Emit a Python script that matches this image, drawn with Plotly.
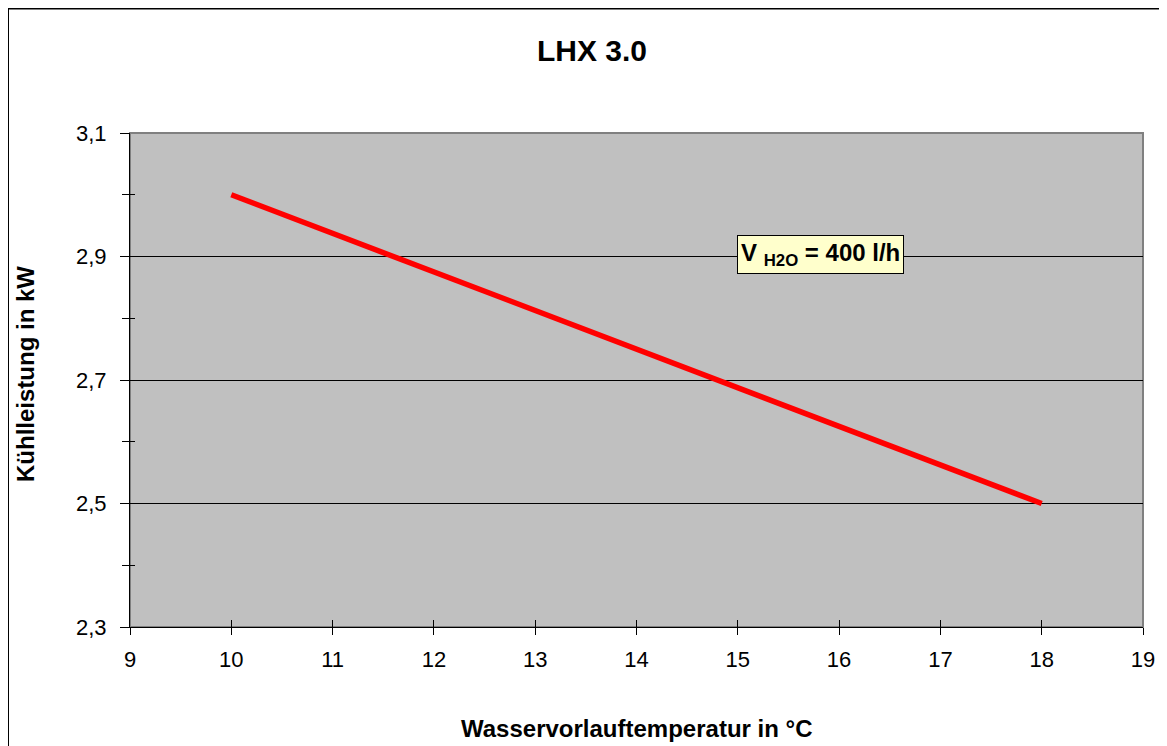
import plotly.graph_objects as go

temps = [10, 12, 14, 16, 18]
power = [3.0, 2.875, 2.75, 2.625, 2.5]

x_ticks = list(range(9, 20))
y_ticks = [2.3, 2.5, 2.7, 2.9, 3.1]

W, H = 1167, 746
OFF = 8  # page body margin
L, R, T, B = 122, 32, 125, 127
pw, ph = W - L - R, H - T - B

def px_x(p):  # screen px -> paper x
    return (p - OFF - L) / pw

def px_y(p):  # screen px -> paper y
    return (H - B - (p - OFF)) / ph

fig = go.Figure()
fig.add_trace(go.Scatter(
    x=temps, y=power, mode="lines",
    line=dict(color="#FF0000", width=5.5),
    hoverinfo="skip", showlegend=False,
))
# invisible trace on overlay axes so they render
fig.add_trace(go.Scatter(x=[temps[0]], y=[power[0]], xaxis="x2", yaxis="y2",
                         mode="markers", marker=dict(opacity=0), hoverinfo="skip",
                         showlegend=False))

font = "Liberation Sans, Arial, sans-serif"

fig.update_layout(
    width=W, height=H,
    margin=dict(l=L, r=R, t=T, b=B),
    paper_bgcolor="white",
    plot_bgcolor="#C0C0C0",
    separators=",.",
    font=dict(family=font, size=22, color="black"),
    title=dict(text="<b>LHX 3.0</b>", x=(592 - OFF) / W, xref="container", xanchor="center",
               y=1 - (50 - OFF) / H, yref="container", yanchor="middle", font=dict(size=30)),
    xaxis=dict(
        range=[9, 19], tickvals=x_ticks, ticks="outside", ticklen=7,
        tickcolor="black", showgrid=False, zeroline=False,
        showline=True, linecolor="black", linewidth=1, ticklabelstandoff=6,
    ),
    yaxis=dict(
        range=[2.3, 3.1], tickvals=y_ticks, tickformat=".1f", ticks="outside", ticklen=9,
        tickcolor="black", showgrid=True, gridcolor="black", gridwidth=1, zeroline=False,
        showline=True, linecolor="black", linewidth=1, ticklabelstandoff=9,
        minor=dict(dtick=0.1, tick0=2.3, ticks="outside", ticklen=7, tickcolor="black", showgrid=False),
    ),
    xaxis2=dict(
        range=[9, 19], tickvals=x_ticks, ticks="inside", ticklen=7, tickcolor="black",
        showticklabels=False, showgrid=False, zeroline=False, overlaying="x", side="bottom",
        anchor="y",
    ),
    yaxis2=dict(
        range=[2.3, 3.1], tickvals=y_ticks, ticks="inside", ticklen=5, tickcolor="black",
        showticklabels=False, showgrid=False, zeroline=False, overlaying="y", side="left",
        anchor="x",
        minor=dict(dtick=0.1, tick0=2.3, ticks="inside", ticklen=5, tickcolor="black", showgrid=False),
    ),
    shapes=[
        dict(type="rect", xref="paper", yref="paper", x0=0, x1=1, y0=0, y1=1,
             line=dict(color="#808080", width=2), layer="below"),
        dict(type="rect", xref="paper", yref="paper",
             x0=px_x(8), x1=px_x(1200), y0=px_y(8.5), y1=px_y(800),
             line=dict(color="black", width=2)),
    ],
    annotations=[
        dict(x=15.82, y=2.904, xref="x", yref="y",
             text="<b>V <sub>H2O</sub> = 400 l/h</b>", showarrow=False,
             font=dict(size=24, color="black"),
             bgcolor="#FFFFCC", bordercolor="black", borderwidth=1, borderpad=3),
        dict(x=0.5, y=px_y(728), xref="paper", yref="paper", xanchor="center", yanchor="middle",
             text="<b>Wasservorlauftemperatur in °C</b>", showarrow=False,
             font=dict(size=24, color="black")),
        dict(x=px_x(25), y=px_y(374), xref="paper", yref="paper", xanchor="center", yanchor="middle",
             text="<b>Kühlleistung in kW</b>", showarrow=False, textangle=-90,
             font=dict(size=24, color="black")),
    ],
)

fig.write_html("out.html")
